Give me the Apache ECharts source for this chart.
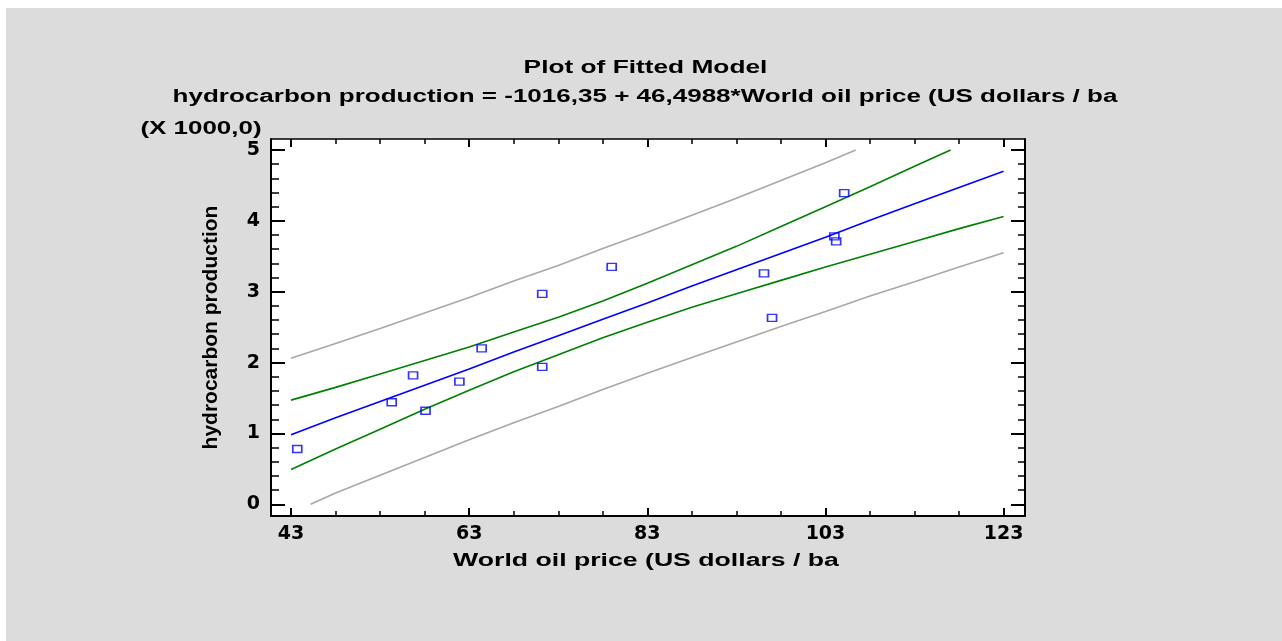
<!DOCTYPE html>
<html>
<head>
<meta charset="utf-8">
<script src="https://cdn.jsdelivr.net/npm/echarts@6/dist/echarts.min.js"></script>
<style>
html,body{margin:0;padding:0;background:#fff;}
#chart{width:1282px;height:641px;}
</style>
</head>
<body>
<div id="chart"></div>
<script>
// Observed data (World oil price, hydrocarbon production in thousands)
const pointX = [43.7, 54.3, 56.7, 58.1, 61.9, 64.4, 71.2, 71.2, 79.0, 96.1, 97.0, 104.0, 104.2, 105.1];
const pointY = [0.78, 1.44, 1.82, 1.32, 1.73, 2.20, 2.97, 1.94, 3.35, 3.26, 2.63, 3.78, 3.71, 4.39];

// Curves read along the x grid
const gridX = [43, 48, 53, 58, 63, 68, 73, 78, 83, 88, 93, 98, 103, 108, 113, 118, 123];
const fitY = [0.98, 1.22, 1.45, 1.68, 1.91, 2.15, 2.38, 2.61, 2.84, 3.08, 3.31, 3.54, 3.77, 4.01, 4.24, 4.47, 4.70];
const confUpperX = [43, 48, 53, 58, 63, 68, 73, 78, 83, 88, 93, 98, 103, 108, 113, 117.05];
const confUpperY = [1.47, 1.65, 1.84, 2.03, 2.22, 2.43, 2.64, 2.87, 3.12, 3.38, 3.64, 3.92, 4.20, 4.48, 4.77, 5.00];
const confLowerY = [0.49, 0.78, 1.06, 1.34, 1.61, 1.87, 2.11, 2.35, 2.57, 2.78, 2.97, 3.16, 3.35, 3.53, 3.71, 3.89, 4.06];
const predUpperX = [43, 48, 53, 58, 63, 68, 73, 78, 83, 88, 93, 98, 103, 106.4];
const predUpperY = [2.06, 2.27, 2.48, 2.70, 2.92, 3.15, 3.37, 3.61, 3.84, 4.08, 4.32, 4.57, 4.82, 5.00];
const predLowerX = [45.2, 48, 53, 58, 63, 68, 73, 78, 83, 88, 93, 98, 103, 108, 113, 118, 123];
const predLowerY = [0.00, 0.16, 0.41, 0.66, 0.91, 1.15, 1.38, 1.62, 1.85, 2.07, 2.29, 2.51, 2.72, 2.94, 3.14, 3.35, 3.55];

// Axis ticks
const xMajor = [43, 63, 83, 103, 123];
const xMinor = [48, 53, 58, 68, 73, 78, 88, 93, 98, 108, 113, 118];
const yMajor = [0, 1, 2, 3, 4, 5];
const yMinor = [0.2, 0.4, 0.6, 0.8, 1.2, 1.4, 1.6, 1.8, 2.2, 2.4, 2.6, 2.8, 3.2, 3.4, 3.6, 3.8, 4.2, 4.4, 4.6, 4.8];

const titleText = 'Plot of Fitted Model';
const subtitleText = 'hydrocarbon production = -1016,35 + 46,4988*World oil price (US dollars / ba';
const xName = 'World oil price (US dollars / ba';
const yName = 'hydrocarbon production';
const scaleNote = '(X 1000,0)';

const zip = (xs, ys) => xs.map((x, i) => [x, ys[i]]);
const FONT = '"Liberation Sans", Arial, sans-serif';
const TICKFONT = '"DejaVu Sans", sans-serif';
const XMIN = 40.75, XMAX = 125.4, YMIN = -0.165, YMAX = 5.155;

function xAx(pos, vals, len, w, showLine, labels) {
  return {
    type: 'value', position: pos, min: XMIN, max: XMAX,
    splitLine: {show: false},
    axisLine: {show: showLine, onZero: false, lineStyle: {color: '#000', width: pos === 'top' ? 1.5 : 2}},
    axisTick: {show: true, inside: true, length: len, customValues: vals, lineStyle: {color: '#000', width: w}},
    axisLabel: labels ? {show: true, customValues: xMajor, color: '#000', fontFamily: TICKFONT, fontWeight: 'bold', fontSize: 19, margin: 9} : {show: false}
  };
}
function yAx(pos, vals, len, w, showLine, labels) {
  return {
    type: 'value', position: pos, min: YMIN, max: YMAX,
    splitLine: {show: false},
    axisLine: {show: showLine, onZero: false, lineStyle: {color: '#000', width: 2}},
    axisTick: {show: true, inside: true, length: len, customValues: vals, lineStyle: {color: '#000', width: w}},
    axisLabel: labels ? {show: true, customValues: yMajor, color: '#000', fontFamily: TICKFONT, fontWeight: 'bold', fontSize: 19, margin: 11} : {show: false},
    name: labels ? yName : '', nameLocation: 'middle', nameGap: 49, nameRotate: 90,
    nameTextStyle: {color: '#000', fontFamily: FONT, fontWeight: 'bold', fontSize: 21}
  };
}
function txt(s, x, y, sx, size) {
  return {type: 'text', x: x, y: y, scaleX: sx, silent: true,
    style: {text: s, textAlign: 'center', textVerticalAlign: 'middle', fill: '#000', font: 'bold ' + size + 'px ' + FONT}};
}

const chart = echarts.init(document.getElementById('chart'));
chart.setOption({
  backgroundColor: '#fff',
  animation: false,
  grid: {left: 271, top: 139, width: 754, height: 377, show: true, backgroundColor: '#fff', borderWidth: 0},
  graphic: [
    {type: 'rect', z: -100, silent: true, shape: {x: 6, y: 8, width: 1276, height: 633}, style: {fill: '#dcdcdc'}},
    txt(titleText, 645.5, 68, 1.46, 18),
    txt(subtitleText, 645, 97, 1.445, 18),
    txt(scaleNote, 201, 129, 1.44, 18),
    txt(xName, 646, 561, 1.48, 18)
  ],
  xAxis: [
    xAx('bottom', xMajor, 8, 2, true, true),
    xAx('bottom', xMinor, 5, 1.5, false, false),
    xAx('top', xMajor, 8, 2, true, false),
    xAx('top', xMinor, 5, 1.5, false, false)
  ],
  yAxis: [
    yAx('left', yMajor, 14, 2, true, true),
    yAx('left', yMinor, 8, 1.5, false, false),
    yAx('right', yMajor, 14, 2, true, false),
    yAx('right', yMinor, 7, 1.5, false, false)
  ],
  series: [
    {type: 'line', data: zip(predUpperX, predUpperY), showSymbol: false, lineStyle: {color: '#a8a8a8', width: 1.6}},
    {type: 'line', data: zip(predLowerX, predLowerY), showSymbol: false, lineStyle: {color: '#a8a8a8', width: 1.6}},
    {type: 'line', data: zip(confUpperX, confUpperY), showSymbol: false, lineStyle: {color: '#008000', width: 1.6}},
    {type: 'line', data: zip(gridX, confLowerY), showSymbol: false, lineStyle: {color: '#008000', width: 1.6}},
    {type: 'line', data: zip(gridX, fitY), showSymbol: false, lineStyle: {color: '#0000ff', width: 1.6}},
    {type: 'scatter', data: zip(pointX, pointY), symbol: 'rect', symbolSize: [9, 7],
     itemStyle: {color: 'rgba(0,0,0,0)', borderColor: '#0000ff', borderWidth: 1.5}, z: 5}
  ]
});
</script>
</body>
</html>
